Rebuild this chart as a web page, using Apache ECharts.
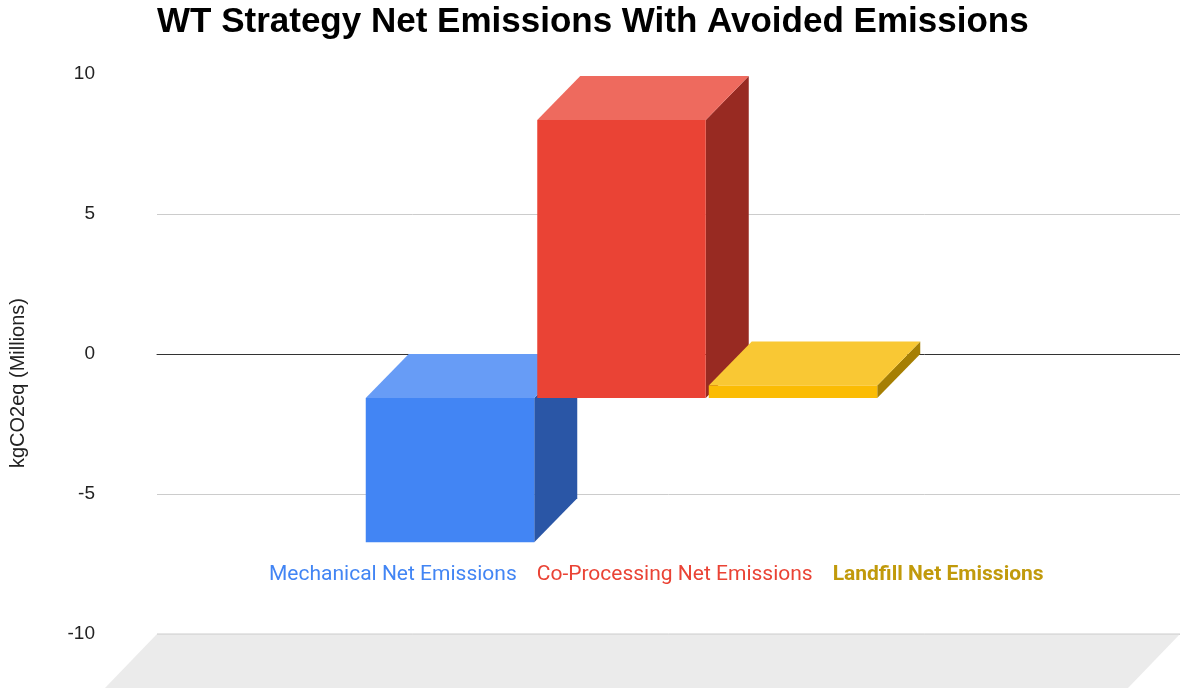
<!DOCTYPE html>
<html>
<head>
<meta charset="utf-8">
<script src="https://cdn.jsdelivr.net/npm/echarts@6/dist/echarts.min.js"></script>
<style>html,body{margin:0;padding:0;background:#fff}#c{width:1180px;height:692px}</style>
</head>
<body>
<div id="c"></div>
<script>
var titleText = 'WT Strategy Net Emissions With Avoided Emissions';
var axisTitle = 'kgCO2eq (Millions)';
var category = ['WT Strategy'];
var seriesNames = ['Mechanical Net Emissions', 'Co-Processing Net Emissions', 'Landfill Net Emissions'];
var seriesValues = [-5.15, 9.93, 0.45];
var yTicks = [-10, -5, 0, 5, 10];

var faceColors = [
  {front: '#4285f4', top: '#679cf6', side: '#2a56a6', legend: '#4285f4', weight: 'normal'},
  {front: '#ea4335', top: '#ee6a5e', side: '#982a22', legend: '#ea4335', weight: 'normal'},
  {front: '#fbbc04', top: '#f9c834', side: '#a67f03', legend: '#c19a0b', weight: 'bold'}
];
var DX = 43, DY = 44;        // bar depth offset
var FDX = 52, FDY = 54;      // floor depth offset
var GROUP_RATIO = 0.5;       // share of category band used by the bar group
var GROUP_SHIFT = -4;
var BAR_GAP = 3;

function makeRender(si) {
  return function (params, api) {
    var cs = params.coordSys;
    var children = [];
    if (si === 0) {
      var yb = api.coord([0, yTicks[0]])[1];
      children.push({
        type: 'polygon',
        shape: {points: [[cs.x, yb], [cs.x + cs.width, yb], [cs.x + cs.width - FDX, yb + FDY], [cs.x - FDX, yb + FDY]]},
        style: {fill: '#ebebeb'}, z2: -10
      });
      children.push({
        type: 'line',
        shape: {x1: cs.x, y1: yb, x2: cs.x + cs.width, y2: yb},
        style: {stroke: '#cccccc', lineWidth: 1}
      });
    }
    var band = api.size([1, 0])[0];
    var center = api.coord([0, 0])[0] + GROUP_SHIFT;
    var groupW = band * GROUP_RATIO;
    var n = seriesValues.length;
    var barW = (groupW - BAR_GAP * (n - 1)) / n;
    var bx0 = center - groupW / 2 + si * (barW + BAR_GAP);
    var bx1 = bx0 + barW;
    var v = api.value(1);
    var y0 = api.coord([0, 0])[1];
    var y1 = api.coord([0, v])[1];
    var yt = Math.min(y0, y1), ybt = Math.max(y0, y1);
    var c = faceColors[si];
    children.push({
      type: 'polygon',
      shape: {points: [[bx1, yt], [bx1, ybt], [bx1 - DX, ybt + DY], [bx1 - DX, yt + DY]]},
      style: {fill: c.side}
    });
    children.push({
      type: 'polygon',
      shape: {points: [[bx0, yt], [bx1, yt], [bx1 - DX, yt + DY], [bx0 - DX, yt + DY]]},
      style: {fill: c.top}
    });
    children.push({
      type: 'rect',
      shape: {x: bx0 - DX, y: yt + DY, width: barW, height: ybt - yt},
      style: {fill: c.front}
    });
    return {type: 'group', children: children};
  };
}

var series = seriesNames.map(function (name, i) {
  return {
    type: 'custom',
    name: name,
    renderItem: makeRender(i),
    data: [[0, seriesValues[i]]],
    itemStyle: {color: faceColors[i].front},
    encode: {x: 0, y: 1},
    clip: false,
    z: 3 + i
  };
});

var chart = echarts.init(document.getElementById('c'), null, {renderer: 'canvas'});
chart.setOption({
  backgroundColor: '#ffffff',
  animation: false,
  title: {
    text: titleText,
    left: 152, top: 0,
    textStyle: {fontFamily: 'Liberation Sans, Arial', fontWeight: 'bold', fontSize: 35, color: '#000'}
  },
  legend: {
    data: seriesNames.map(function (n, i) {
      return {name: n, icon: 'rect', itemStyle: {opacity: 0},
        textStyle: {color: faceColors[i].legend, fontWeight: faceColors[i].weight}};
    }),
    left: 259, top: 559,
    itemWidth: 0, itemHeight: 0, itemGap: 15,
    textStyle: {fontFamily: 'Roboto', fontSize: 21},
    selectedMode: false
  },
  grid: {left: 157, right: 0, top: 74, bottom: 58, containLabel: false},
  xAxis: {
    type: 'category', data: category,
    axisLine: {show: true, onZero: true, lineStyle: {color: '#333333', width: 1}},
    axisTick: {show: false}, axisLabel: {show: false}, splitLine: {show: false}
  },
  yAxis: {
    type: 'value', min: -10, max: 10, interval: 5,
    axisLine: {show: false}, axisTick: {show: false},
    axisLabel: {margin: 62, fontFamily: 'Liberation Sans, Arial', fontSize: 19, color: '#222222'},
    splitLine: {lineStyle: {color: ['#cccccc', '#cccccc', 'rgba(0,0,0,0)', '#cccccc', 'rgba(0,0,0,0)']}}
  },
  graphic: [{
    type: 'text', x: 18, y: 383, rotation: Math.PI / 2,
    style: {text: axisTitle, fontFamily: 'Liberation Sans, Arial', fontSize: 20, fill: '#222222',
      align: 'center', verticalAlign: 'middle'}
  }],
  series: series
});
</script>
</body>
</html>
